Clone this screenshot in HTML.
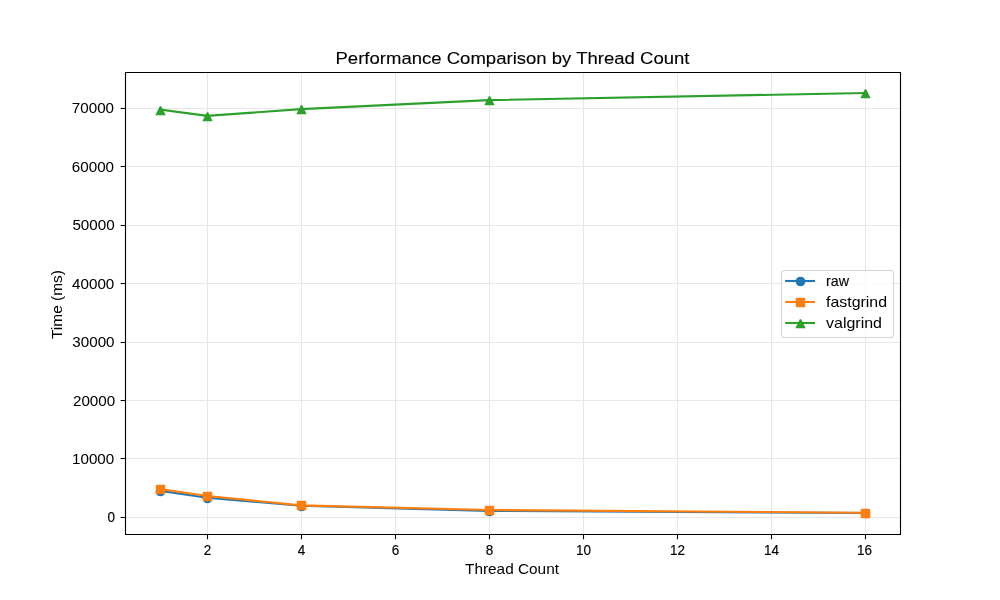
<!DOCTYPE html><html><head><meta charset="utf-8"><style>html,body{margin:0;padding:0;background:#fff;width:1000px;height:600px;overflow:hidden}svg{display:block;will-change:transform;transform:translateZ(0)}text{font-family:"Liberation Sans",sans-serif;fill:#000}</style></head><body>
<svg width="1000" height="600" viewBox="0 0 1000 600">
<rect x="0" y="0" width="1000" height="600" fill="#fff"/>
<path d="M125,517.5H900M125,458.5H900M125,400.5H900M125,342.5H900M125,283.5H900M125,225.5H900M125,166.5H900M125,108.5H900M207.5,72V534M301.5,72V534M395.5,72V534M489.5,72V534M583.5,72V534M677.5,72V534M771.5,72V534M865.5,72V534" stroke="#b0b0b0" stroke-opacity="0.3" stroke-width="1.111" fill="none"/>
<polyline points="160.227,490.805 207.197,497.704 301.136,505.800 489.015,510.900 864.773,513.000" fill="none" stroke="#1f77b4" stroke-width="2.0833" stroke-linejoin="round" stroke-linecap="square"/>
<circle cx="160.5" cy="491.5" r="4.1667" fill="#1f77b4" stroke="#1f77b4" stroke-width="1.3889"/><circle cx="207.5" cy="498.5" r="4.1667" fill="#1f77b4" stroke="#1f77b4" stroke-width="1.3889"/><circle cx="301.5" cy="506.5" r="4.1667" fill="#1f77b4" stroke="#1f77b4" stroke-width="1.3889"/><circle cx="489.5" cy="511.5" r="4.1667" fill="#1f77b4" stroke="#1f77b4" stroke-width="1.3889"/><circle cx="865.5" cy="513.5" r="4.1667" fill="#1f77b4" stroke="#1f77b4" stroke-width="1.3889"/>
<polyline points="160.227,489.106 207.197,496.004 301.136,505.400 489.015,510.000 864.773,512.700" fill="none" stroke="#ff7f0e" stroke-width="2.0833" stroke-linejoin="round" stroke-linecap="square"/>
<rect x="155.8000" y="484.8000" width="9.4000" height="9.4000" fill="#ff7f0e"/><rect x="202.8000" y="491.8000" width="9.4000" height="9.4000" fill="#ff7f0e"/><rect x="296.8000" y="500.8000" width="9.4000" height="9.4000" fill="#ff7f0e"/><rect x="484.8000" y="505.8000" width="9.4000" height="9.4000" fill="#ff7f0e"/><rect x="860.8000" y="508.8000" width="9.4000" height="9.4000" fill="#ff7f0e"/>
<polyline points="160.227,109.596 207.197,115.895 301.136,109.096 489.015,100.098 864.773,93.000" fill="none" stroke="#2ca02c" stroke-width="2.0833" stroke-linejoin="round" stroke-linecap="square"/>
<path d="M159.807,106.200L161.193,106.200L165.700,115.300L155.300,115.300Z" fill="#2ca02c"/><path d="M206.807,112.200L208.193,112.200L212.700,121.300L202.300,121.300Z" fill="#2ca02c"/><path d="M300.807,105.200L302.193,105.200L306.700,114.300L296.300,114.300Z" fill="#2ca02c"/><path d="M488.807,96.200L490.193,96.200L494.700,105.300L484.300,105.300Z" fill="#2ca02c"/><path d="M864.807,89.200L866.193,89.200L870.700,98.300L860.300,98.300Z" fill="#2ca02c"/>
<path d="M125.5,72.5H900.5V534.5H125.5Z" fill="none" stroke="#000" stroke-width="1.111" stroke-linecap="square"/>
<path d="M120.64,517.5H125.5M120.64,458.5H125.5M120.64,400.5H125.5M120.64,342.5H125.5M120.64,283.5H125.5M120.64,225.5H125.5M120.64,166.5H125.5M120.64,108.5H125.5M207.5,534.5V539.36M301.5,534.5V539.36M395.5,534.5V539.36M489.5,534.5V539.36M583.5,534.5V539.36M677.5,534.5V539.36M771.5,534.5V539.36M865.5,534.5V539.36" stroke="#000" stroke-width="1.111" fill="none"/>
<text x="115.10" y="522" font-size="14.6" stroke="#000" stroke-width="0.2" text-anchor="end" textLength="7.5" lengthAdjust="spacingAndGlyphs">0</text>
<text x="114.26" y="464" font-size="14.6" stroke="#000" stroke-width="0.03" text-anchor="end" textLength="42.2" lengthAdjust="spacingAndGlyphs">10000</text>
<text x="115.17" y="406" font-size="14.6" stroke="#000" stroke-width="0.03" text-anchor="end" textLength="42.2" lengthAdjust="spacingAndGlyphs">20000</text>
<text x="114.59" y="347" font-size="14.6" stroke="#000" stroke-width="0.03" text-anchor="end" textLength="42.2" lengthAdjust="spacingAndGlyphs">30000</text>
<text x="114.31" y="289" font-size="14.6" stroke="#000" stroke-width="0.03" text-anchor="end" textLength="42.2" lengthAdjust="spacingAndGlyphs">40000</text>
<text x="114.60" y="230" font-size="14.6" stroke="#000" stroke-width="0.03" text-anchor="end" textLength="42.2" lengthAdjust="spacingAndGlyphs">50000</text>
<text x="114.04" y="172" font-size="14.6" stroke="#000" stroke-width="0.03" text-anchor="end" textLength="42.2" lengthAdjust="spacingAndGlyphs">60000</text>
<text x="114.09" y="113" font-size="14.6" stroke="#000" stroke-width="0.03" text-anchor="end" textLength="42.2" lengthAdjust="spacingAndGlyphs">70000</text>
<text x="207.5" y="555" font-size="14.6" stroke="#000" stroke-width="0.16" text-anchor="middle" textLength="7.5" lengthAdjust="spacingAndGlyphs">2</text>
<text x="301.5" y="555" font-size="14.6" stroke="#000" stroke-width="0.16" text-anchor="middle" textLength="7.5" lengthAdjust="spacingAndGlyphs">4</text>
<text x="395.5" y="555" font-size="14.6" stroke="#000" stroke-width="0.16" text-anchor="middle" textLength="7.5" lengthAdjust="spacingAndGlyphs">6</text>
<text x="489.5" y="555" font-size="14.6" stroke="#000" stroke-width="0.16" text-anchor="middle" textLength="7.5" lengthAdjust="spacingAndGlyphs">8</text>
<text x="583.5" y="555" font-size="14.6" stroke="#000" stroke-width="0.16" text-anchor="middle" textLength="15" lengthAdjust="spacingAndGlyphs">10</text>
<text x="677.5" y="555" font-size="14.6" stroke="#000" stroke-width="0.16" text-anchor="middle" textLength="15" lengthAdjust="spacingAndGlyphs">12</text>
<text x="771.5" y="555" font-size="14.6" stroke="#000" stroke-width="0.16" text-anchor="middle" textLength="15" lengthAdjust="spacingAndGlyphs">14</text>
<text x="864.4" y="555" font-size="14.6" stroke="#000" stroke-width="0.16" text-anchor="middle" textLength="15" lengthAdjust="spacingAndGlyphs">16</text>
<text x="512" y="574" font-size="14.6" text-anchor="middle" textLength="94" lengthAdjust="spacingAndGlyphs">Thread Count</text>
<text x="512.5" y="64" font-size="16.9" stroke="#000" stroke-width="0.12" text-anchor="middle" textLength="354" lengthAdjust="spacingAndGlyphs">Performance Comparison by Thread Count</text>
<text transform="translate(62.0,304.5) rotate(-90)" x="0" y="0" font-size="14.6" text-anchor="middle" textLength="69" lengthAdjust="spacingAndGlyphs">Time (ms)</text>
<rect x="781.5" y="270.5" width="112" height="67" rx="2.78" ry="2.78" fill="#fff" fill-opacity="0.8" stroke="#ccc" stroke-opacity="0.8" stroke-width="1.111"/>
<path d="M786.24,281.0H814.01" stroke="#1f77b4" stroke-width="2.0833" stroke-linecap="square"/>
<circle cx="800.5" cy="281.5" r="4.1667" fill="#1f77b4" stroke="#1f77b4" stroke-width="1.3889"/>
<text x="826" y="286.0" font-size="14.6" stroke="#000" stroke-width="0.12" textLength="23" lengthAdjust="spacingAndGlyphs">raw</text>
<path d="M786.24,302.0H814.01" stroke="#ff7f0e" stroke-width="2.0833" stroke-linecap="square"/>
<rect x="795.8000" y="297.8000" width="9.4000" height="9.4000" fill="#ff7f0e"/>
<text x="826" y="307.0" font-size="14.6" stroke="#000" stroke-width="0" textLength="61" lengthAdjust="spacingAndGlyphs">fastgrind</text>
<path d="M786.24,323.0H814.01" stroke="#2ca02c" stroke-width="2.0833" stroke-linecap="square"/>
<path d="M799.807,319.200L801.193,319.200L805.700,328.300L795.300,328.300Z" fill="#2ca02c"/>
<text x="826" y="328.0" font-size="14.6" stroke="#000" stroke-width="0" textLength="56" lengthAdjust="spacingAndGlyphs">valgrind</text>
</svg></body></html>
